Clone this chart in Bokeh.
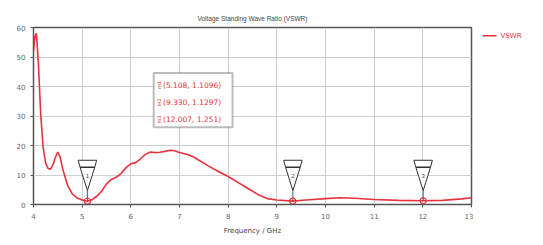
from bokeh.plotting import figure
from bokeh.layouts import row
from bokeh.models import (Range1d, FixedTicker, Label, BoxAnnotation)
from bokeh.embed import file_html
from bokeh.resources import INLINE

title = "Voltage Standing Wave Ratio (VSWR)"
x_label = "Frequency / GHz"
series_name = "VSWR"

freq = [4.0, 4.03, 4.06, 4.1, 4.15, 4.2, 4.25, 4.3, 4.35, 4.4, 4.45, 4.5, 4.55, 4.6, 4.7,
        4.8, 4.9, 5.0, 5.1, 5.2, 5.3, 5.4, 5.5, 5.6, 5.7, 5.8, 5.9, 6.0, 6.1, 6.2, 6.3,
        6.4, 6.5, 6.6, 6.7, 6.8, 6.9, 7.0, 7.1, 7.2, 7.3, 7.4, 7.6, 7.8, 8.0, 8.2, 8.4,
        8.6, 8.8, 9.0, 9.33, 9.6, 10.0, 10.3, 10.6, 11.0, 11.5, 12.0, 12.4, 12.8, 13.0]
vswr = [52, 57, 58, 48, 30, 19, 14, 12.2, 12, 13.5, 16, 17.8, 16, 12, 6.5,
        3.5, 2.2, 1.5, 1.1, 1.6, 2.8, 4.5, 7, 8.5, 9.2, 10.5, 12.5, 13.8, 14.2, 15.5, 17,
        17.8, 17.6, 17.7, 18, 18.4, 18.2, 17.6, 17.2, 16.8, 16, 15, 13, 11.2, 9.5, 7.5, 5.5,
        3.5, 2.0, 1.5, 1.13, 1.5, 2.0, 2.3, 2.1, 1.7, 1.4, 1.25, 1.4, 1.9, 2.3]

marker_names = ["m1", "m2", "m3"]
marker_ids = ["1", "2", "3"]
marker_x = [5.108, 9.330, 12.007]
marker_y = [1.1096, 1.1297, 1.251]

x_ticks = [4, 5, 6, 7, 8, 9, 10, 11, 12, 13]
y_ticks = [0, 10, 20, 30, 40, 50, 60]

RED = "#e8323c"
GRID = "#cfcfcf"
TXT = "#666666"

p = figure(width=473, height=237, output_backend="svg", toolbar_location=None,
           x_range=Range1d(4, 13), y_range=Range1d(0, 60),
           min_border_left=33, min_border_top=27, min_border_right=2, min_border_bottom=31)
p.outline_line_color = "#555555"
p.outline_line_width = 1.5

p.title.text = title
p.title.align = "center"
p.title.text_font = "Liberation Sans"
p.title.text_font_size = "6.5px"
p.title.text_font_style = "normal"
p.title.text_color = "#444444"
p.title.standoff = 12

for ax in (p.xaxis[0], p.yaxis[0]):
    ax.major_label_text_font = "DejaVu Sans"
    ax.major_label_text_font_size = "7px"
    ax.major_label_text_color = TXT
    ax.axis_line_color = "#555555"
    ax.major_tick_line_color = "#555555"
    ax.major_tick_out = 3
    ax.major_tick_in = 0
    ax.minor_tick_line_color = None
p.xaxis.ticker = FixedTicker(ticks=x_ticks)
p.yaxis.ticker = FixedTicker(ticks=y_ticks)
p.xaxis.axis_label = x_label
p.xaxis.axis_label_text_font = "DejaVu Sans"
p.xaxis.axis_label_text_font_size = "7px"
p.xaxis.axis_label_text_font_style = "normal"
p.xaxis.axis_label_text_color = "#444444"
p.xaxis.axis_label_standoff = 5
p.xaxis.major_label_standoff = 5
p.yaxis.major_label_standoff = 5

p.xgrid.grid_line_color = GRID
p.ygrid.grid_line_color = GRID

line = p.line(freq, vswr, line_color=RED, line_width=1.6)

# marker flags
flag_xs, flag_ys = [], []
for mx in marker_x:
    flag_xs.append([mx - 0.19, mx + 0.19, mx + 0.15, mx, mx - 0.15])
    flag_ys.append([15.0, 15.0, 12.6, 4.7, 12.6])
p.patches(flag_xs, flag_ys, fill_color="white", line_color="#333333", line_width=1)
p.segment([mx - 0.15 for mx in marker_x], [12.6] * 3, [mx + 0.15 for mx in marker_x], [12.6] * 3,
          line_color="#333333", line_width=1.5)
p.segment(marker_x, [4.7] * 3, marker_x, marker_y, line_color="#2a6f6f", line_width=1)
p.text(marker_x, [9.8] * 3, text=marker_ids, text_font_size="6px", text_color="#444444",
       text_align="center", text_baseline="middle")
p.scatter(marker_x, marker_y, size=6, marker="circle", fill_color=None, line_color=RED,
          line_width=1.2)

# marker table
p.add_layout(BoxAnnotation(left=6.47, right=8.09, top=44.6, bottom=26.2, fill_color="white",
                           fill_alpha=1, line_color="#222222", line_width=2))
row_y = [40.5, 34.6, 28.8]
for name, mx, my, ry in zip(marker_names, marker_x, marker_y, row_y):
    p.add_layout(Label(x=6.66, y=ry, text="(%.3f, %s)" % (mx, ("%.4f" % my).rstrip("0")),
                       text_font="DejaVu Sans", text_font_size="7.5px", text_color=RED,
                       text_baseline="middle"))
    p.add_layout(Label(x=6.57, y=ry, text=name, angle=1.5708, text_font="DejaVu Sans",
                       text_font_size="5px", text_color=RED, text_baseline="middle",
                       text_align="center"))

# legend panel as a small companion figure
lg = figure(width=70, height=237, output_backend="svg", toolbar_location=None,
            x_range=Range1d(0, 70), y_range=Range1d(0, 237), min_border=0)
lg.axis.visible = False
lg.grid.visible = False
lg.outline_line_color = None
lg.segment([9], [226], [23], [226], line_color=RED, line_width=1.5)
lg.add_layout(Label(x=27, y=226, text=series_name, text_font="DejaVu Sans",
                    text_font_size="7px", text_color=RED, text_baseline="middle"))

open("out.html", "w").write(file_html(row(p, lg), INLINE))
